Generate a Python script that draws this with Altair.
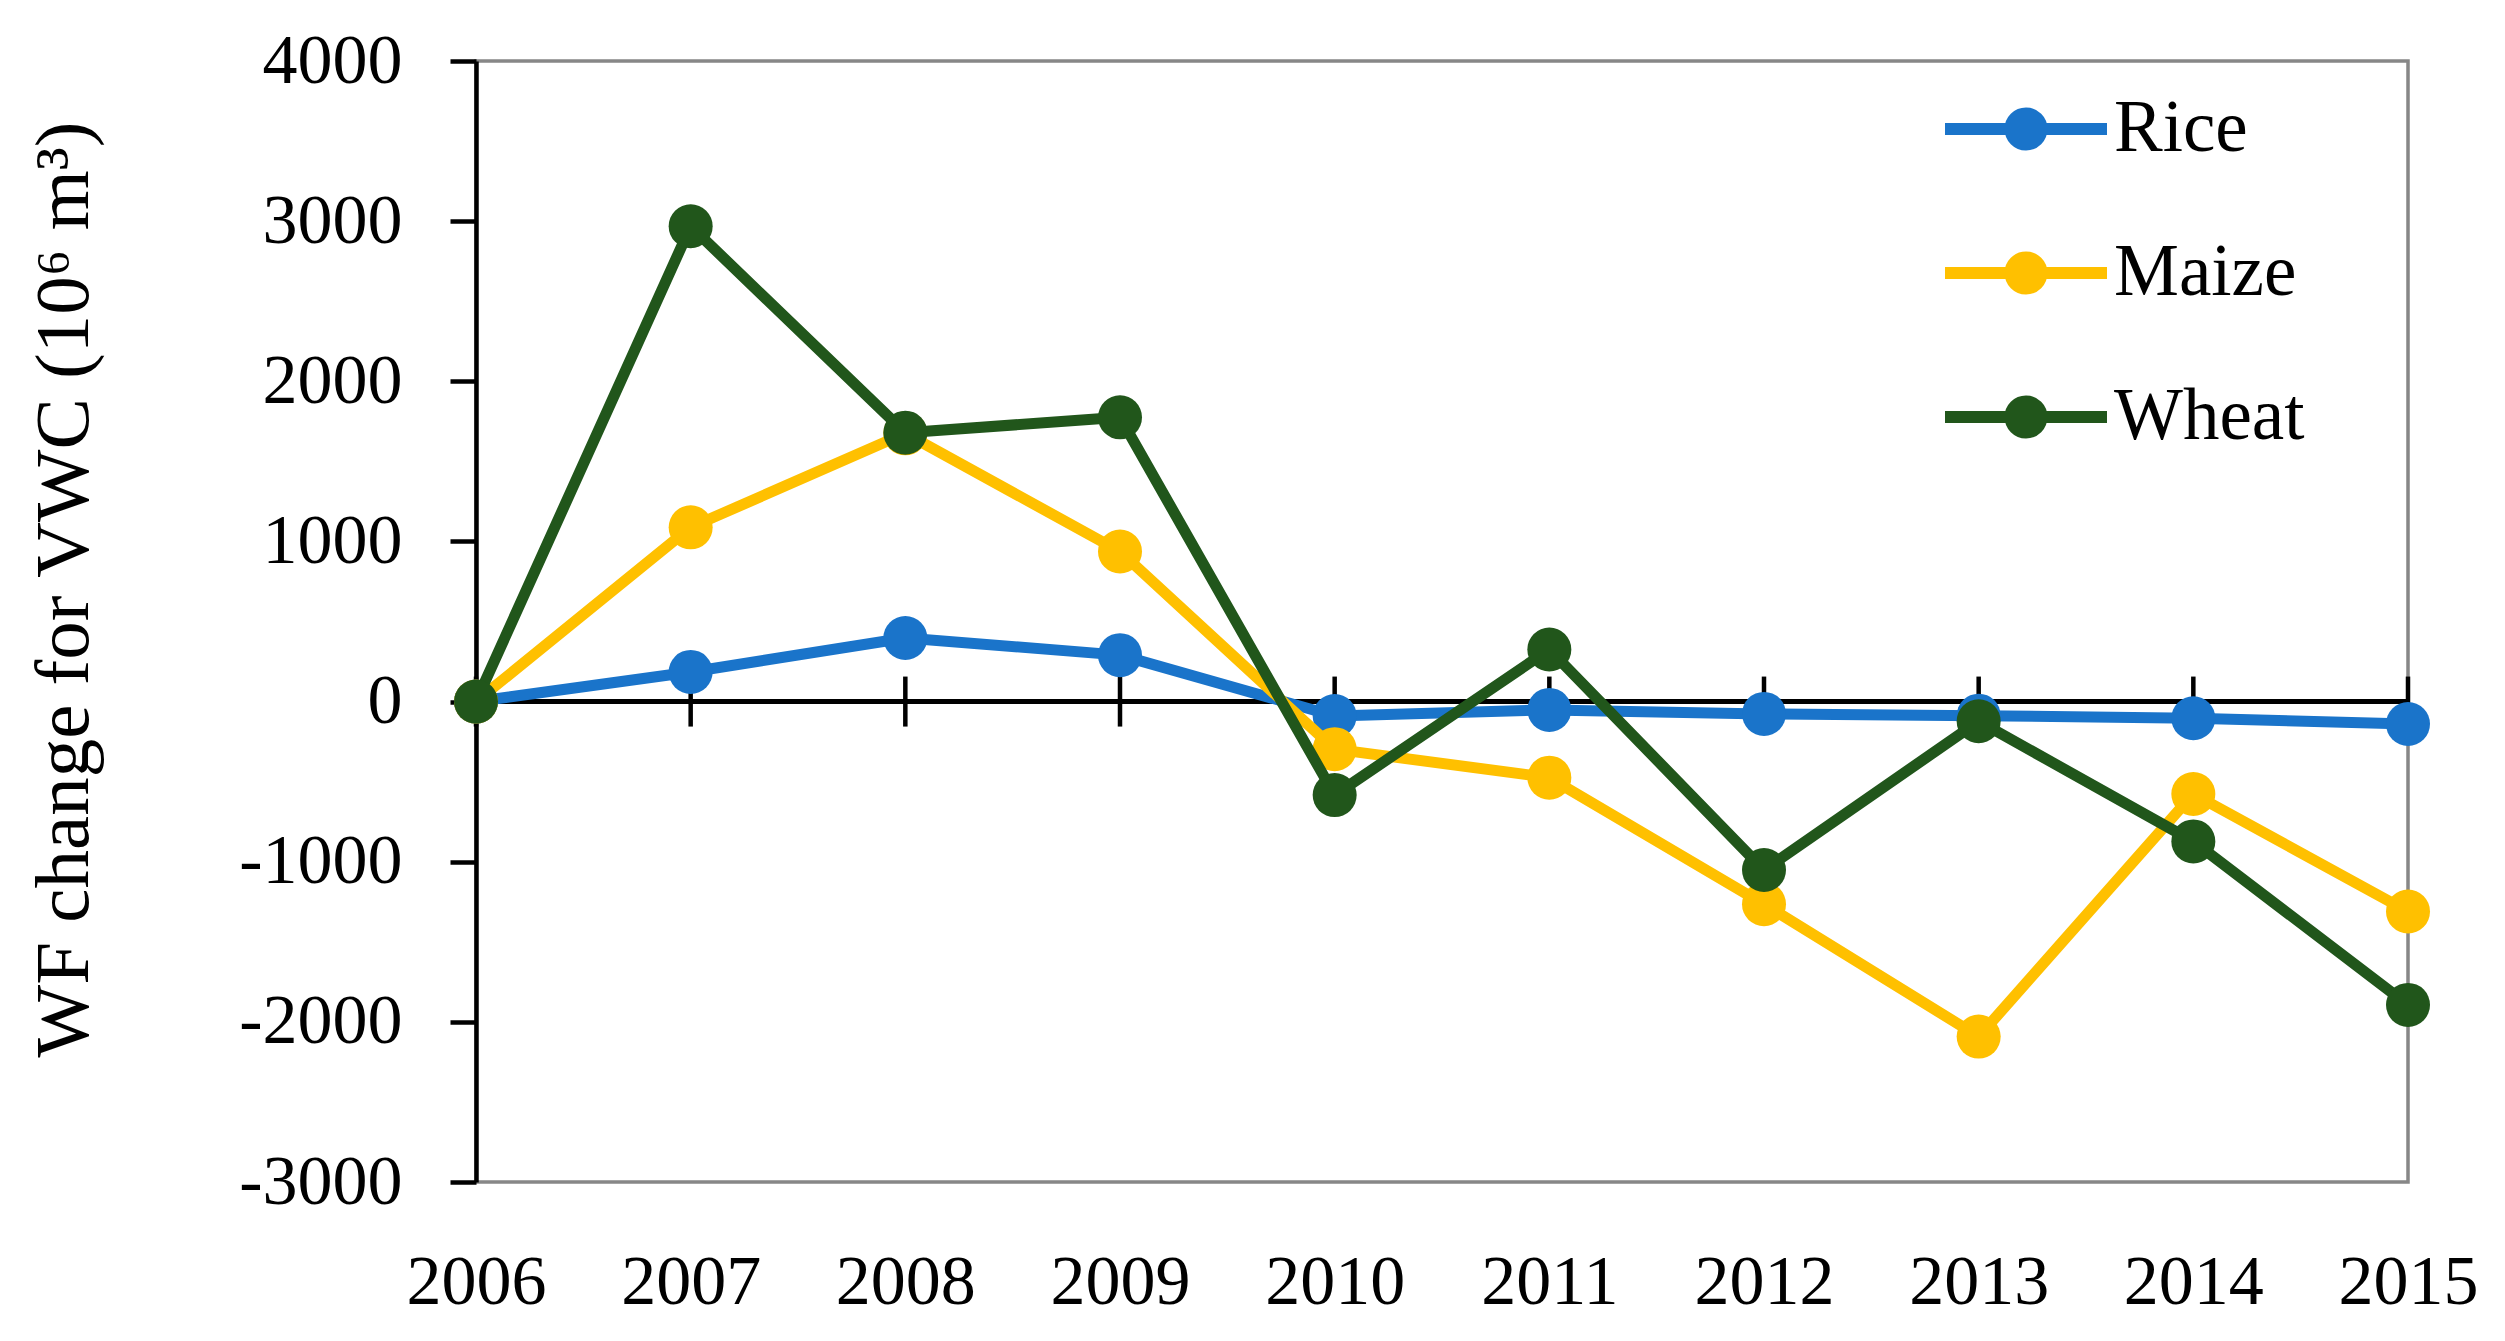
import altair as alt
import pandas as pd

years = [2006, 2007, 2008, 2009, 2010, 2011, 2012, 2013, 2014, 2015]
crops = ["Rice", "Maize", "Wheat"]
rice = [0, 185, 397, 290, -90, -52, -77, -88, -104, -140]
maize = [0, 1088, 1675, 937, -297, -475, -1265, -2092, -577, -1311]
wheat = [0, 2968, 1679, 1775, -584, 325, -1052, -123, -873, -1894]
colors = ["#1A74CA", "#FFC000", "#21561B"]
y_ticks = [-3000, -2000, -1000, 0, 1000, 2000, 3000, 4000]
y_title = "WF change for VWC (10\u2076 m\u00b3)"

rows = []
for crop, vals in zip(crops, [rice, maize, wheat]):
    for yr, v in zip(years, vals):
        rows.append({"year": yr, "crop": crop, "value": v})
df = pd.DataFrame(rows)
axis_df = pd.DataFrame({"year": years, "zero": [0] * len(years)})

FONT = "Liberation Serif"
x_scale = alt.Scale(domain=[2006, 2015], nice=False, zero=False)
y_scale = alt.Scale(domain=[-3000, 4000], nice=False)
color_scale = alt.Scale(domain=crops, range=colors)

legend_path = (
    "M -1.125 0 L 1.125 0 "
    "M 0.215 0 A 0.215 0.215 0 1 1 -0.215 0 A 0.215 0.215 0 1 1 0.215 0 "
    "M 0.07 0 A 0.07 0.07 0 1 1 -0.07 0 A 0.07 0.07 0 1 1 0.07 0"
)

x_axis = alt.Axis(
    values=years, format="d", domain=False, ticks=False, grid=False,
    labelFontSize=70, labelPadding=66, labelFlush=False, labelOverlap=False,
    title=None,
)
y_axis = alt.Axis(
    values=y_ticks, labelExpr="'' + datum.value", grid=False,
    domainColor="black", domainWidth=4.5, tickColor="black", tickWidth=4.5,
    tickSize=26, labelPadding=48, labelFontSize=70,
    title=y_title, titleFontSize=77, titleFontWeight="normal",
    titleX=-412, titleY=528, titleBaseline="middle", titleAlign="center",
)
legend = alt.Legend(
    title=None, orient="none", legendX=1472, legendY=-10, padding=0,
    symbolType=legend_path, symbolSize=20736, symbolStrokeWidth=12,
    labelFont=FONT, labelFontSize=73, labelColor="black", labelOffset=10,
    labelLimit=400, rowPadding=26,
)

X = alt.X("year:Q", scale=x_scale, axis=x_axis)

zero_rule = alt.Chart(axis_df).mark_rule(color="black", strokeWidth=4.5).encode(
    y=alt.Y("zero:Q", scale=y_scale, axis=y_axis)
)
zero_ticks = alt.Chart(axis_df).mark_tick(
    orient="vertical", size=50, thickness=4.5, color="black", opacity=1
).encode(
    x=X,
    y=alt.Y("zero:Q", scale=y_scale, axis=y_axis),
)

layers = [zero_rule, zero_ticks]
for crop in crops:
    base = alt.Chart(df).transform_filter(alt.datum.crop == crop).encode(
        x=X,
        y=alt.Y("value:Q", scale=y_scale, axis=y_axis),
        color=alt.Color("crop:N", scale=color_scale, legend=legend),
    )
    layers.append(base.mark_line(strokeWidth=11, strokeJoin="round"))
    layers.append(base.mark_circle(size=1936, opacity=1))

chart = alt.layer(*layers).properties(
    width=1932,
    height=1121,
    autosize=alt.AutoSizeParams(type="none"),
    padding={"left": 468, "top": 53, "right": 85, "bottom": 145},
).configure_view(
    stroke="#878787", strokeWidth=3.5
).configure_axis(
    labelFont=FONT, titleFont=FONT, labelColor="black", titleColor="black"
)

chart.save("out.html", embed_options={"renderer": "svg", "actions": False})
